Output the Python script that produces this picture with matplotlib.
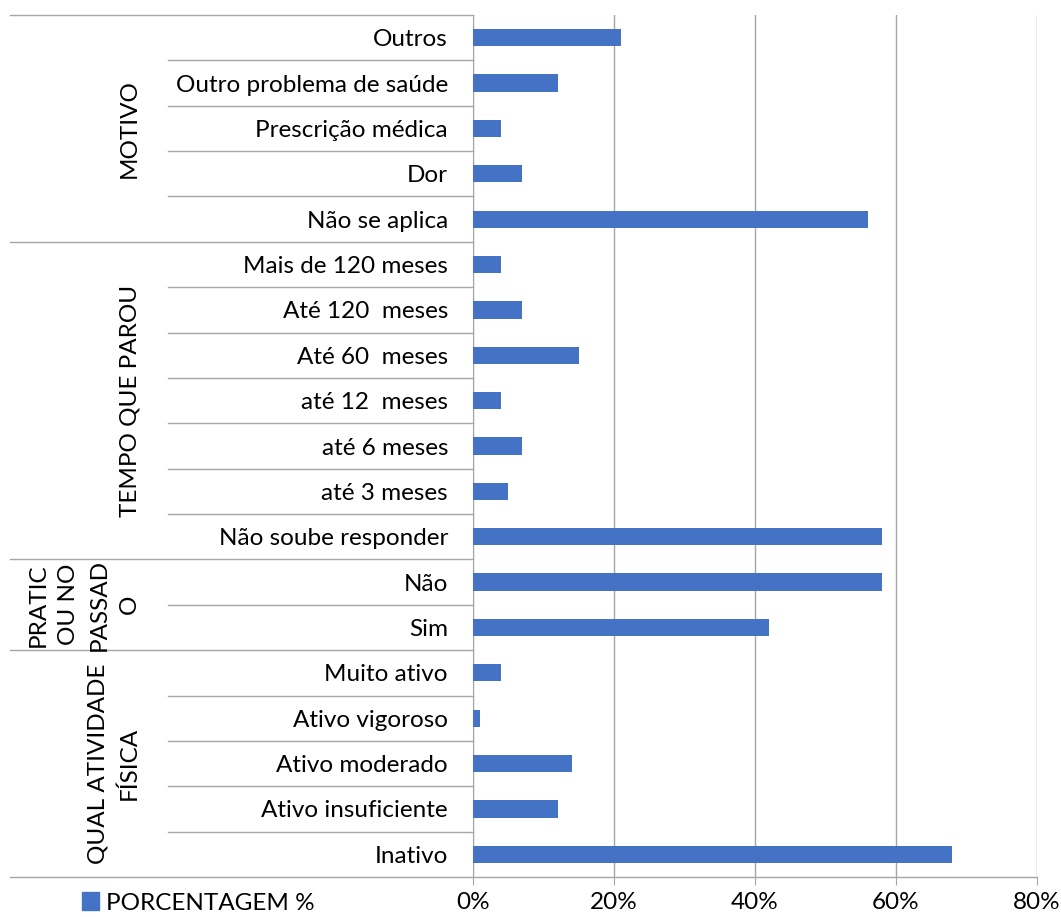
import numpy as np
import matplotlib.pyplot as plt
import matplotlib.transforms as mtransforms
from matplotlib.patches import Patch

# categories bottom -> top, grouped
groups = ["QUAL ATIVIDADE\nFÍSICA", "PRATIC\nOU NO\nPASSAD\nO", "TEMPO QUE PAROU", "MOTIVO"]
group_items = [
    ["Inativo", "Ativo insuficiente", "Ativo moderado", "Ativo vigoroso", "Muito ativo"],
    ["Sim", "Não"],
    ["Não soube responder", "até 3 meses", "até 6 meses", "até 12  meses",
     "Até 60  meses", "Até 120  meses", "Mais de 120 meses"],
    ["Não se aplica", "Dor", "Prescrição médica", "Outro problema de saúde", "Outros"],
]
group_values = [
    [68, 12, 14, 1, 4],
    [42, 58],
    [58, 5, 7, 4, 15, 7, 4],
    [56, 7, 4, 12, 21],
]
xticks = [0, 20, 40, 60, 80]
series_name = "PORCENTAGEM %"

labels = [c for g in group_items for c in g]
values = [v for g in group_values for v in g]

plt.rcParams['font.family'] = ['Lato', 'DejaVu Sans']
fs = 17.5
bar_col = '#4472c4'
line_col = '#a6a6a6'

fig = plt.figure(figsize=(10.61, 9.17), dpi=100)
ax = fig.add_axes([473/1061, 1-877/917, 564/1061, 862/917])

y = np.arange(len(labels))
ax.barh(y, values, height=0.38, color=bar_col, zorder=3)
ax.set_ylim(-0.5, len(labels)-0.5)
ax.set_xlim(0, 80)
ax.set_xticks(xticks)
ax.set_xticklabels([f"{t}%" for t in xticks], fontsize=fs)
ax.set_yticks(y)
ax.set_yticklabels(labels, fontsize=fs)
ax.tick_params(axis='y', length=0, pad=18)
ax.tick_params(axis='x', length=6, color=line_col, pad=5)
ax.grid(axis='x', color=line_col, lw=1, zorder=0)
for s in ['top', 'right']:
    ax.spines[s].set_visible(False)
ax.spines['left'].set_color(line_col)
ax.spines['bottom'].set_visible(False)

tr = mtransforms.blended_transform_factory(ax.transAxes, ax.transData)
x_inner = (168-473)/564
x_outer = (10-473)/564
# separators
start = 0
for gi, items in enumerate(group_items):
    n = len(items)
    for k in range(1, n):
        ax.plot([x_inner, 0], [start+k-0.5]*2, transform=tr, color=line_col, lw=1, clip_on=False)
    ax.plot([x_outer, 0], [start+n-0.5]*2, transform=tr, color=line_col, lw=1, clip_on=False)
    ax.text((140-473)/564, start+(n-1)/2, groups[gi], transform=tr, rotation=90,
            ha='right', va='center', multialignment='center', fontsize=fs, linespacing=1.55)
    start += n
ax.plot([x_outer, 1], [-0.5, -0.5], transform=tr, color=line_col, lw=1, clip_on=False)

fig.legend(handles=[Patch(color=bar_col)], labels=[series_name], loc='center left',
           bbox_to_anchor=(60/1061, 1-903/917), frameon=False, fontsize=fs,
           handlelength=0.7, handleheight=0.7, handletextpad=0.3)

fig.savefig('out.png', dpi=100)
